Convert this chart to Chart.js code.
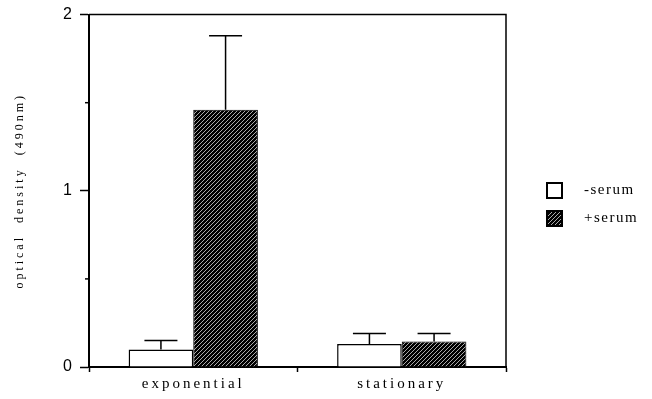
<!DOCTYPE html>
<html>
<head>
<meta charset="utf-8">
<script src="https://cdn.jsdelivr.net/npm/chart.js@4"></script>
<style>
  body { margin: 0; background: #fff; }
  #wrap { width: 652px; height: 399px; }
</style>
</head>
<body>
<div id="wrap"><canvas id="chart" width="652" height="399"></canvas></div>
<script>
const phases = ["exponential", "stationary"];
const seriesNames = ["-serum", "+serum"];
const minusSerum = [0.10, 0.13];
const plusSerum = [1.46, 0.145];
const minusSerumErr = [0.15, 0.19];
const plusSerumErr = [1.88, 0.19];
const yTicks = [0, 0.5, 1, 1.5, 2];

const makeHatch = () => {
  const c = document.createElement("canvas");
  c.width = 4;
  c.height = 4;
  const g = c.getContext("2d");
  g.fillStyle = "#000";
  g.fillRect(0, 0, 4, 4);
  g.strokeStyle = "rgba(255,255,255,0.75)";
  g.lineWidth = 0.9;
  g.beginPath();
  g.moveTo(0, 4);
  g.lineTo(4, 0);
  g.stroke();
  return document.getElementById("chart").getContext("2d").createPattern(c, "repeat");
};
const hatch = makeHatch();

const spacing = (ctx) => {
  ctx.letterSpacing = "3px";
  ctx.wordSpacing = "6px";
};

const extras = {
  id: "extras",
  beforeLayout: (chart) => spacing(chart.ctx),
  beforeDraw: (chart) => spacing(chart.ctx),
  afterDraw: (chart) => {
    const ctx = chart.ctx;
    const a = chart.chartArea;
    const y = chart.scales.y;
    ctx.save();
    ctx.strokeStyle = "#000";
    ctx.lineWidth = 1.5;
    // top and right of the frame
    ctx.beginPath();
    ctx.moveTo(a.left, a.top);
    ctx.lineTo(a.right, a.top);
    ctx.lineTo(a.right, a.bottom);
    ctx.stroke();
    // minor ticks
    yTicks.filter((v) => v % 1 !== 0).forEach((v) => {
      const py = y.getPixelForValue(v);
      ctx.beginPath();
      ctx.moveTo(a.left - 4, py);
      ctx.lineTo(a.left, py);
      ctx.stroke();
    });
    // error bars (upper only)
    [minusSerumErr, plusSerumErr].forEach((errs, i) => {
      const meta = chart.getDatasetMeta(i);
      meta.data.forEach((bar, j) => {
        const top = y.getPixelForValue(errs[j]);
        ctx.beginPath();
        ctx.moveTo(bar.x, bar.y);
        ctx.lineTo(bar.x, top);
        ctx.moveTo(bar.x - 16.5, top);
        ctx.lineTo(bar.x + 16.5, top);
        ctx.stroke();
      });
    });
    // legend
    const items = [
      { text: seriesNames[0], fill: "#fff", y: 190 },
      { text: seriesNames[1], fill: hatch, y: 218 },
    ];
    ctx.font = "15px 'Liberation Serif'";
    ctx.letterSpacing = "1.5px";
    ctx.wordSpacing = "0px";
    ctx.textBaseline = "middle";
    ctx.textAlign = "left";
    items.forEach((it) => {
      ctx.fillStyle = it.fill;
      ctx.fillRect(547, it.y - 7, 15, 15);
      ctx.lineWidth = 2;
      ctx.strokeRect(547, it.y - 7, 15, 15);
      ctx.fillStyle = "#000";
      ctx.fillText(it.text, 584, it.y);
    });
    ctx.restore();
  },
};

new Chart(document.getElementById("chart"), {
  type: "bar",
  data: {
    labels: phases,
    datasets: [
      {
        label: seriesNames[0],
        data: minusSerum,
        backgroundColor: "#fff",
        borderColor: "#000",
        borderWidth: 1.5,
        categoryPercentage: 0.62,
        barPercentage: 1,
      },
      {
        label: seriesNames[1],
        data: plusSerum,
        backgroundColor: hatch,
        borderColor: "#000",
        borderWidth: 1,
        categoryPercentage: 0.62,
        barPercentage: 1,
      },
    ],
  },
  options: {
    responsive: false,
    animation: false,
    layout: { padding: { left: 0, top: 10, right: 146, bottom: 0 } },
    plugins: { legend: { display: false }, tooltip: { enabled: false } },
    scales: {
      x: {
        offset: true,
        grid: {
          offset: true,
          drawOnChartArea: false,
          tickLength: 5,
          tickColor: "#000",
          tickWidth: 1.5,
        },
        border: { color: "#000", width: 2 },
        ticks: {
          color: "#000",
          padding: 3,
          font: { family: "'Liberation Serif'", size: 15 },
        },
        afterFit: (s) => { s.height = 32; },
      },
      y: {
        min: 0,
        max: 2,
        afterBuildTicks: (s) => { s.ticks = yTicks.map((v) => ({ value: v })); },
        grid: {
          drawOnChartArea: false,
          tickLength: 9,
          tickWidth: 1.5,
          tickColor: (c) => (c.tick && c.tick.value % 1 === 0 ? "#000" : "rgba(0,0,0,0)"),
        },
        border: { color: "#000", width: 2 },
        ticks: {
          color: "#000",
          padding: 5,
          font: { family: "'Liberation Sans'", size: 16 },
          callback: (v) => (v % 1 === 0 ? String(v) : ""),
        },
        title: {
          display: true,
          text: "optical density (490nm)",
          color: "#000",
          padding: { top: 13, bottom: 0 },
          font: { family: "'Liberation Serif'", size: 12 },
        },
        afterFit: (s) => { s.width = 89; },
      },
    },
  },
  plugins: [extras],
});
</script>
</body>
</html>
